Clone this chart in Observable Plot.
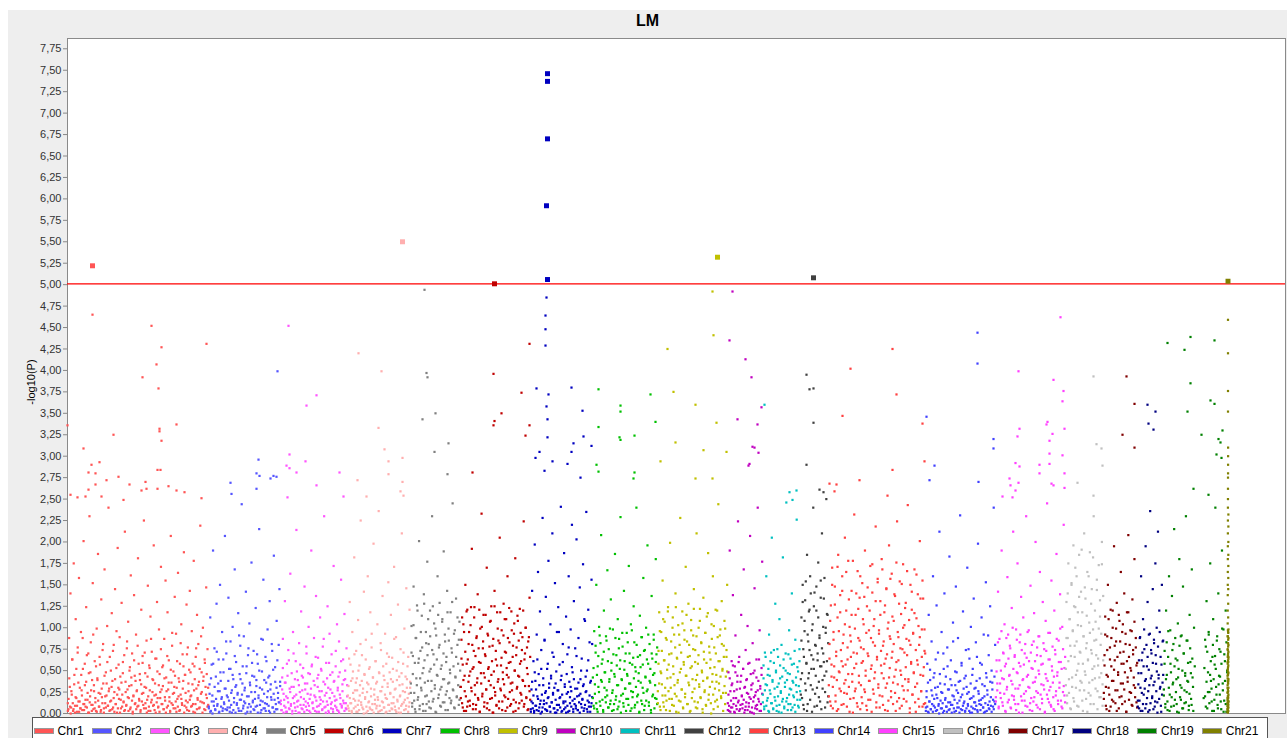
<!DOCTYPE html>
<html><head><meta charset="utf-8">
<script src="https://cdn.jsdelivr.net/npm/d3@7"></script>
<script src="https://cdn.jsdelivr.net/npm/@observablehq/plot@0.6"></script>
<style>
html,body{margin:0;padding:0;background:#fff;width:1287px;height:738px;overflow:hidden;font-family:"Liberation Sans",Arial,sans-serif;}
#panel{position:absolute;left:8px;top:10px;width:1279px;height:728px;background:#eeeeee;}
#chart{position:absolute;left:0;top:0;}
#title{position:absolute;left:8px;width:1279px;top:12px;text-align:center;font-weight:bold;font-size:16px;color:#000;}
#ylabel{position:absolute;left:31px;top:382px;transform:translate(-50%,-50%) rotate(-90deg);font-size:11px;white-space:nowrap;color:#000;}
#legend{position:absolute;left:32px;top:717px;width:1236px;height:30px;border:1px solid #555;background:#fff;display:flex;justify-content:center;align-items:flex-start;padding-top:6px;box-sizing:border-box;}
.item{display:flex;align-items:center;margin-right:8px;font-size:12px;color:#000;line-height:14px;}
.sw{width:18px;height:4px;border:1px solid #999;margin-right:4px;}
</style>
</head><body>
<div id="panel"></div>
<div id="chart"></div>
<div id="title">LM</div>
<div id="ylabel">-log10(P)</div>
<div id="legend"></div>
<script>
const chroms = ["Chr1","Chr2","Chr3","Chr4","Chr5","Chr6","Chr7","Chr8","Chr9","Chr10","Chr11","Chr12","Chr13","Chr14","Chr15","Chr16","Chr17","Chr18","Chr19","Chr21"];
const colors = ["#ff5555","#5555ff","#ff55ff","#ffafaf","#808080","#c00000","#0000c0","#00c000","#c0c000","#c000c0","#00c0c0","#404040","#ff4040","#4040ff","#ff40ff","#c0c0c0","#800000","#000080","#008000","#808000"];
// chromosome lengths along the genome axis
const lengths = [141,72,67,63,50,70,62,65,70,35,38,28,97,70,70,38,34,26,64,1];
const threshold = 5.01;
const yTicks = d3.range(0, 7.76, 0.25);

// markers per chromosome, in genome order, -log10(P) in hundredths ("." = no marker)
const bulk = [
"12 5 88 31 140 7 22 63 3 175 45 9 110 18 2 71 36 158 14 6 95 27 4 52 201 11 33 8 124 68 16 1 47 230 20 83 10 39 152 5 26 61 13 3 99 41 186 24 8 57 2 133 19 74 35 6 168 12 48 21 102 9 240 29 66 4 15 117 38 7 80 25 145 11 53 1 193 30 17 89 43 6 129 22 60 14 3 212 37 9 76 28 107 18 50 5 161 33 70 2 20 138 44 12 92 26 8 181 58 15 39 4 121 23 67 10 225 31 47 6 85 16 149 3 56 27 113 13 72 40 9 196 21 35 1 64 130 18 8 98 46 25 171 11 54 32 5 87 19 155 42 7 118 28 62 14 2 207 36 79 10 49 24 136 6 93 30 17 164 41 3 58 22 104 12 69 38 188 9 45 15 127 4 77 26 51 143 20 8 96 34 11 178 55 1 66 29 115 16 81 37 7 219 23 48 13 100 43 5 59 31 147 18 75 10",
"8 34 112 3 57 21 190 14 76 5 43 128 9 26 63 2 150 38 17 95 6 48 11 207 29 70 4 19 135 52 7 84 24 1 101 40 13 168 31 60 10 22 117 3 46 79 16 244 35 6 90 27 12 142 55 2 68 20 105 33 8 176 44 15 73 4 25 123 39 9 58 18 215 30 1 87 49 14 156 23 6 66 36 11 98 42 3 131 28 19 81 7 51 184 16 37 5 108 62 24 13 145 32",
"15 4 42 87 23 9 131 36 2 58 18 74 6 29 163 11 47 3 95 31 20 7 61 214 14 39 1 82 25 10 119 44 5 53 17 148 28 8 70 35 12 101 3 46 22 190 57 13 6 88 33 19 137 2 41 65 9 26 112 16 50 4 78 37 230 21 8 59 14 125 30 1 93 45 11 69 24 5 172 38 15 55 7 104 27 3 84 48 18 156 9 34 63 12 116 40 6 76 20",
"21 6 64 130 12 38 3 95 49 17 182 27 8 73 41 2 109 15 56 33 225 10 68 24 5 142 45 19 86 1 36 160 13 52 7 118 29 77 4 42 198 22 11 61 35 9 104 16 236 47 3 82 26 14 137 55 7 39 93 18 2 70 31 153 10 48 23 115 6 65 37 12 171 28 4 89 50 16 127 1 43 20 75 9 210 34 58 13 99 25 5 146 40 18 66 8 121 30",
"35 102 12 67 148 24 5 88 41 126 16 59 201 9 73 30 114 47 3 139 62 20 95 11 177 38 81 7 120 52 26 230 14 69 105 33 2 91 45 160 18 77 129 28 8 56 110 40 189 13 84 22 66 143 4 99 36 51 118 15 71 245 27 93 6 43 134 19 80 58 10 107 31",
"18 64 112 7 39 95 26 150 3 58 121 14 81 44 9 103 30 192 52 11 73 124 22 5 88 36 139 16 60 2 99 47 233 20 76 115 8 42 67 28 170 12 91 54 4 107 33 125 18 79 1 49 143 25 63 10 118 37 85 6 205 29 56 97 14 40 128 21 72 3 110 45 160 17 59 83 9 35 119 27 66 2 93 50 181 13 77 31 108 6 43 122 24 61 15 89 38 224 11 70 100 19 53 4 84 32 135 16",
"5 28 143 12 61 3 197 38 9 92 20 165 46 7 119 15 74 2 228 33 11 85 24 136 4 52 18 178 30 8 104 41 13 210 22 66 6 152 35 1 95 27 124 10 57 19 241 44 3 81 14 187 31 7 113 23 69 2 160 37 12 98 26 220 48 5 131 17 76 9 203 29 4 88 21 147 40 11 64 16 174 34 6 108 25 235 50 2 121 13 83 36 8 156 19",
"42 9 96 23 71 150 5 55 31 101 14 82 208 37 63 2 120 48 19 90 27 167 7 75 40 11 133 59 24 98 4 46 186 16 68 33 110 8 87 52 229 21 39 78 12 143 61 29 3 94 44 17 172 70 35 104 6 57 25 125 83 10 49 240 20 66 38 1 114 54 15 89 30 158 73 9 43 100 26 196 58 13 81 36 4 137 64 22 92 47 18 180 69 11",
"26 73 118 8 49 95 34 155 13 62 107 21 4 86 41 124 57 17 199 30 70 10 112 46 92 23 140 2 65 36 103 15 80 228 52 28 119 7 60 97 19 171 44 84 11 128 33 67 3 109 55 25 91 145 14 74 39 210 6 58 100 31 122 18 82 48 1 135 63 27 94 9 113 42 187 22 71 53 12 104 37 160 5 77 29 121 45 16 89 244 35 61 98 20 131 50 24 79 108 11 43 66 150",
"12 48 3 190 26 7 61 35 138 18 2 55 91 9 28 44 224 15 66 5 37 115 21 11 52 168 30 4 74 13 40 102 23 8 59 207 17 33 1 82 47 19 146 6 25 63 10 240 38 14 97 29 3 53 177",
"22 56 8 71 34 160 15 45 3 92 27 61 12 205 39 5 74 19 128 50 9 31 66 2 110 41 24 80 14 182 53 6 36 70 246 18 47 11 97 29 64 4 140 38 21 58 10 86 33 226 16 49 7 75 26",
"40 112 18 150 75 5 96 132 27 59 185 11 84 47 121 160 33 68 2 104 240 52 141 23 79 120 9 62 176 37 91 14 155 55 210 29 70 134 44 7 100 250 61 115 20",
"33 81 14 126 57 170 6 95 42 148 21 67 3 112 185 49 29 138 74 10 160 55 92 24 205 39 120 8 63 178 31 101 17 84 143 46 1 71 232 26 115 58 12 166 88 36 135 5 77 19 152 61 104 28 190 44 9 125 70 16 97 38 172 52 2 141 83 23 110 48 218 13 66 157 30 93 7 131 56 180 20 79 41 118 4 64 146 35 99 15 196 53 87 26 163 72 11 108 43 137 3 60 224 34 89 18 154 50 116 9 75 174 27 103 40 129 14 68 243 37 85 6 150 58 121 22 94 47 168 31 2 111 62 139 17 80 201 45 26 98 8 134 54 73 12",
"7 26 58 2 115 14 39 5 84 21 160 9 47 30 3 126 18 71 11 212 35 6 95 24 1 52 140 16 43 8 77 28 4 183 13 62 33 10 106 20 2 49 148 27 7 88 37 15 231 5 56 22 119 12 41 3 74 31 170 9 25 64 1 101 18 45 6 134 29 13 83 38 4 198 23 11 59 16 112 34 7 92 20 2 153 42 27 10 68 5 125 19 50 36 8 240 14 80",
"19 62 35 142 8 87 24 50 190 13 71 40 104 3 58 28 159 92 16 45 76 6 123 34 212 20 66 11 98 48 175 29 1 83 55 136 15 39 112 23 70 9 230 43 95 31 61 4 149 18 80 52 14 117 37 200 26 68 7 90 46 165 22 57 12 130 33 75 2 108 41 245 17 63 27 94 10 155 50 36 5 120 74 21 186 44 15 85 30 139 60 8 101 25 220 53 13",
"52 130 21 88 175 40 110 6 67 150 31 96 196 14 79 124 45 160 9 103 58 185 27 71 142 36 118 3 90 210 49 134 17 82 165 62 24 106 188 11 74 145 39 98 230 55 120 29 86 156 5 64 173 42 113 19 93 200 34 137",
"24 68 113 9 45 90 150 30 3 77 121 55 16 100 38 195 62 12 84 129 27 48 6 108 71 165 20 95 35 58 140 14 81 2 118 42 208 66 25 97 50 10 133 74 33 180 19 88 56 7",
"15 47 6 88 30 160 62 3 110 22 75 38 195 11 55 130 26 92 4 236 41 70 18 145 33 82 8 175 58 100 13 212 45 120 29 66 2 150 36 85",
"28 73 11 120 45 4 96 160 22 58 8 137 34 81 215 16 64 40 2 105 52 180 19 90 30 6 148 70 12 47 230 25 85 37 9 115 60 17 168 42 3 100 55 . . . . . . . . . . . . . 20 78 131 6 48 92 25 175 38 14 66 110 3 57 240 31 85 10 140 44 22 72 5 190 35 98 15 61 120 2 50",
"5 18 30 44 2 60 75 12 90 105 25 120 8 138 150 38 165 180 52 195 210 15 225 240 68 250 262 275 3 82 280 290 300 310 95 20 112 35 128 48 145 10 158 60 172 185 200 218 232 7 40 22 66 14 98"
];

// second, denser pass of low markers per chromosome (hundredths, genome order)
const bulkLow = [
"3 17 41 8 0 26 63 12 5 34 1 19 52 9 77 14 2 30 6 45 21 88 11 4 58 16 37 7 24 70 1 13 48 27 3 10 92 33 6 18 55 2 39 15 8 66 23 4 29 12 81 1 44 20 7 35 60 9 26 3 14 50 31 5 73 18 2 40 11 96 22 6 57 28 1 16 36 8 47 13 68 4 25 10 84 19 3 32 54 7 42 15 0 21 62 11 38 5 27 79 9 17 46 2 34 14 59 24 6 71 12 30 1 43 20 8 53 3 87 16 25 39 10 4 64 22 13 49 7 33 2 18 75 28 11 56 5 41 15 1 26 67 9 36 19 3 51 12 94 23 6 31 44 14 2 61 8 20 37 4 82 17 10 29 55 1 45 24 7 69 13 35 3 16 48 21 9 58 2 27 40 11 76 5 18 33 6 52 14 90 25 1 38 12 63 4 22 46 8 30",
"6 23 2 41 14 0 58 9 31 4 17 72 11 35 1 26 48 8 19 3 63 13 29 5 84 21 7 38 15 2 52 10 27 45 4 18 67 1 33 12 24 6 91 16 40 3 22 55 9 14 30 0 47 20 7 76 11 36 2 25 59 13 5 43 17 8 32 69 1 21 50 10 15 4 28 86 6 39 12 3 61 19 26 9 44 1 34 16 73 7 23 2 54 11 30 5 18 80 13 37",
"11 4 28 53 1 16 36 7 20 2 44 13 62 5 25 9 31 0 18 70 12 40 3 22 49 8 15 33 1 57 19 6 27 42 10 2 35 14 78 4 23 47 9 17 1 29 55 12 6 38 21 3 66 15 8 31 45 2 19 11 52 26 5 14 87 7 34 1 24 41 10 3 59 18 28 6 13 48 2 37 20 9 73 16 4 30 43 1 22 11 61 7 26 15 39 3 50 12 5 33",
"9 32 3 18 57 12 1 41 24 6 69 15 36 2 27 10 50 4 21 81 13 38 7 29 0 46 17 63 8 25 3 34 14 54 5 20 93 11 42 1 28 16 61 6 37 19 2 48 9 26 74 4 31 13 44 7 22 1 58 17 35 10 66 3 24 40 12 5 52 19 87 8 29 2 39 14 60 6 33 21 1 47 11 26 71 4 16 43 9 30 55 2 23 13 37",
"24 71 8 46 103 15 59 2 88 33 120 19 64 5 41 95 27 77 11 53 128 36 3 82 21 68 110 14 49 90 6 38 74 125 17 57 29 99 1 63 44 115 22 80 9 52 31 107 13 70 40 92 4 60 26 118 35 85 18 47 12 76 130 28 55 7 97 42 66 20 112 33 86 16 50",
"31 86 12 57 104 3 44 72 20 119 8 63 37 95 15 49 124 26 80 5 54 112 33 67 10 90 41 18 76 121 2 59 35 101 23 84 47 13 69 115 28 6 93 52 38 78 17 108 45 61 1 87 30 125 21 73 9 56 99 40 14 82 118 27 65 4 48 91 34 110 19 71 53 7 88 42 123 25 60 11 97 36 79 16 105 50 3 68 29 114 44 85 12 58 94 22 74 39 120 8 63 32 100 18 77 46 5 89 26 66",
"2 14 37 6 21 1 48 9 28 4 63 17 3 33 11 0 52 22 7 41 15 86 5 26 12 3 58 19 35 8 2 44 13 71 24 6 30 1 16 49 10 4 27 95 18 7 39 2 22 60 12 5 34 14 1 46 9 25 77 3 19 31 8 54 15 2 40 11 29 6 67 20 4 36 13 1 23 50 7 17 32 3 110 10 43 26 5 15 62 8 21 2 38 12 81",
"18 53 6 34 79 12 45 2 67 25 91 9 39 58 16 4 72 30 48 13 85 21 61 7 37 99 15 50 3 27 69 11 43 88 20 56 5 33 76 14 62 1 40 94 23 8 51 29 70 17 46 83 10 35 59 3 26 97 19 65 41 7 54 31 80 13 22 47 2 68 36 89 11 57 24 4 74 42 15 63 28 92 9 38 52 1 70 20 45 86 6 33 60 17 77",
"12 58 35 96 4 47 73 21 110 8 62 30 88 15 51 119 26 69 3 42 84 17 100 55 9 33 77 124 20 64 39 1 92 48 14 71 28 105 6 57 86 23 44 115 11 66 36 80 2 53 97 18 40 75 122 29 60 7 90 45 13 68 34 108 19 83 50 5 38 72 25 94 10 59 41 117 16 78 31 63 0 87 46 22 102 54 14 70 37 120 8 61 27 91 43 18 81 52 3 66 32 99 24 74 49",
"4 22 9 41 2 15 33 7 56 11 26 1 48 18 5 37 13 60 3 29 10 44 20 6 52 16 1 31 8 39 24 4 58 12 19 2 46 28 7 35 14 0 50 21 9 42 5 27 17 63 3 32 11 45 23",
"13 41 5 27 66 9 33 18 52 2 44 23 71 12 37 6 59 29 15 48 3 75 20 35 10 56 26 1 43 17 63 8 31 50 14 39 4 69 22 46 11 28 57 7 36 19 73 2 42 25 54 9 32 61 16",
"22 85 47 130 10 66 108 35 154 58 3 92 41 119 74 16 140 52 97 28 63 125 8 80 44 148 30 70 112 19 88 55 135 5 76 39 101 60 158 25 94 49 116 13 82",
"20 64 108 9 43 150 31 86 55 127 14 72 39 171 5 96 48 118 26 61 143 82 11 35 104 57 165 23 77 46 133 2 91 66 115 37 178 18 53 99 29 140 70 8 122 44 85 160 33 59 12 110 75 136 25 50 94 4 147 67 38 120 16 88 56 174 28 102 41 79 131 7 63 153 34 97 21 115 73 47 168 10 84 58 126 30 145 69 3 106 42 90 157 19 65 113 36 81 139 24 51 176 14 95 62 128 6 76 45 151 32 100 17 71 123 54 87 166 27 40 109 1 80 60 142 22 93 48 117 13 74 162 35 57 102 8 89 134 26 66 155 44 11 98 70",
"3 19 8 36 1 14 51 5 27 11 2 42 17 7 63 22 4 31 9 0 46 15 25 6 12 70 3 34 18 8 2 55 13 28 5 40 10 1 21 84 6 16 33 3 48 12 24 7 1 38 19 59 4 9 29 14 2 44 6 23 11 75 3 17 35 8 1 52 20 13 5 30 9 66 2 26 15 41 4 10 57 18 7 1 32 12 47 3 22 91 6 14 37 9 2 28 16 5 43 11",
"14 49 27 83 6 62 35 18 96 41 9 70 23 55 2 88 31 13 64 44 79 7 38 21 100 52 16 68 29 4 86 47 11 59 33 92 20 74 1 40 57 15 81 26 65 8 45 97 30 12 71 53 3 36 84 19 61 42 10 77 24 50 90 5 67 34 17 58 82 28 1 46 73 22 38 94 13 63 31 8 55 78 19 43 3 69 26 87 48 11 60 36 99 15 52 6 75 32 21 66",
"33 88 12 140 61 24 110 79 5 152 42 97 18 125 66 170 30 84 50 118 8 136 72 38 102 191 15 58 90 27 147 45 76 114 2 63 160 36 94 21 128 70 52 182 11 85 41 107 68 144 26 56 99 19 132 80 47 174 9 62",
"17 56 92 31 5 74 43 110 22 63 8 88 38 120 14 51 79 27 99 3 66 45 115 19 84 35 58 11 104 72 28 48 93 2 61 37 118 16 80 53 24 96 9 69 42 107 30 77 13 59",
"8 34 62 15 89 3 47 24 71 11 55 98 29 6 40 80 18 66 2 51 33 93 12 74 44 20 59 5 86 37 14 68 26 49 1 78 41 17 95 31 9 57 22 84 45",
"21 58 7 40 83 14 66 30 3 97 48 19 74 36 9 55 88 25 11 62 42 1 79 33 16 91 50 6 70 27 44 13 85 38 59 4 23 76 47 10 64 31 . . . . . . . . . . . . . . 18 53 86 8 37 72 25 95 12 45 61 29 3 80 40 16 67 52 22 90 6 34 75 43 14 58 99 27 2 69 38 11 83 48",
"2 9 16 24 33 41 5 50 58 13 66 74 20 82 90 28 97 1 36 45 7 54 62 11 70 78 18 86 94 26 3 38 47 56 14 64 72 30 80 88"
];

// sparse upper markers: "position within chromosome:-log10(P)"
const upper = [
"25:5.22 25:4.65 84:4.52 94:4.27 139:4.31 89:4.07 75:3.92 91:3.79 109:3.37 92:3.32 92:3.29 94:3.18 46:3.25 16:3.09 0:3.36 24:2.90 32:2.93 21:2.81 28:2.80 39:2.72 51:2.76 28:2.67 21:2.61 62:2.67 90:2.84 93:2.84 78:2.70 74:2.60 79:2.62 90:2.62 101:2.65 109:2.60 117:2.58 3:2.55 18:2.53 10:2.52 34:2.53 56:2.49 134:2.51",
"69:3.99 50:2.96 48:2.80 51:2.77 65:2.77 68:2.76 62:2.74 22:2.69 48:2.62 23:2.56",
"8:4.52 36:3.71 26:3.59 9:3.02 6:2.89 9:2.86 25:2.94 16:2.81 59:2.81 36:2.66 7:2.52 63:2.53",
"55:5.50 11:4.20 34:3.99 31:3.33 37:3.08 41:2.94 41:2.79 55:2.98 10:2.72 55:2.70 53:2.59 56:2.54 19:2.53",
"14:4.94 16:3.97 17:3.92 25:3.50 12:3.43 38:3.15 24:3.05 37:2.79",
"34:5.01 69:4.31 33:3.96 61:3.74 41:3.50 34:3.41 33:3.36 69:3.36 65:3.24 12:2.81",
"17:7.46 17:7.37 17:6.70 16:5.92 17:5.06 16:4.85 15:4.64 15:4.48 15:4.29 6:3.79 41:3.80 18:3.72 16:3.58 52:3.53 17:3.43 17:3.22 53:3.23 43:3.15 61:3.12 9:3.05 41:3.05 5:2.98 22:2.94 37:2.91 14:2.83 50:2.75",
"6:3.78 28:3.59 28:3.52 58:3.72 63:3.40 6:3.34 27:3.22 28:3.19 42:3.24 4:2.90 6:2.82 42:2.81 41:2.74",
"60:5.32 55:4.92 56:4.41 10:4.25 16:3.75 38:3.60 59:3.39 18:3.16 46:3.07 69:3.05 3:2.94 38:2.74 55:2.74",
"5:4.92 2:4.35 18:4.13 24:3.92 34:3.57 10:3.43 30:3.37 25:3.11 27:3.10 31:3.04 22:2.91 21:2.89",
"2:3.60 27:2.58 34:2.60 30:2.49",
"13:5.08 6:3.95 9:3.78 13:3.79 13:3.39 6:2.90 19:2.61 23:2.58",
"64:4.25 22:4.02 68:3.72 14:3.47 94:3.38 96:2.94 64:2.84 31:2.72 1:2.68 8:2.67 6:2.59 59:2.54",
"52:4.44 52:4.08 1:3.46 68:3.20 68:3.09 9:2.89 4:2.72 53:2.70",
"65:4.62 23:3.99 58:3.89 68:3.76 67:3.64 52:3.40 51:3.37 24:3.32 69:3.32 22:3.23 57:3.26 54:3.18 54:3.03 67:3.01 20:2.92 24:2.88 44:2.90 54:2.91 44:2.80 69:2.80 14:2.74 23:2.69 15:2.66 56:2.68 58:2.66 69:2.63 20:2.60 7:2.53 17:2.52",
"28:3.93 31:3.14 36:3.09 37:2.89 12:2.69 28:2.54",
"23:3.93 31:3.61 19:3.25 31:3.10",
"10:3.60 18:3.52 11:3.38 16:3.31",
"27:4.39 51:4.35 4:4.32 21:4.24 27:3.85 47:3.65 51:3.61 24:3.52 59:3.30 38:3.25 55:3.20 57:3.16 53:3.02 58:2.98 30:2.62 45:2.55",
"0.5:5.04 0.5:4.59 0.5:4.20 0.5:3.76 0.5:3.52"
];

const starts = [];
lengths.reduce((acc, l, i) => { starts[i] = acc; return acc + l; }, 0);

const rows = [];
function addSeq(list, k, c) {
  const vals = list[k].trim().split(/\s+/);
  const n = vals.length;
  vals.forEach((v, i) => {
    if (v === ".") return;
    rows.push({chr: c, pos: starts[k] + (i + 0.5) / n * lengths[k], p: +v / 100});
  });
}
chroms.forEach((c, k) => {
  addSeq(bulk, k, c);
  addSeq(bulkLow, k, c);
  upper[k].trim().split(/\s+/).filter(Boolean).forEach(s => {
    const [r, v] = s.split(":");
    rows.push({chr: c, pos: starts[k] + +r, p: +v});
  });
});

const chart = Plot.plot({
  width: 1287, height: 720,
  marginLeft: 67, marginRight: 2, marginTop: 38, marginBottom: 7,
  style: {background: "transparent", fontFamily: "Liberation Sans, Arial, sans-serif", fontSize: "11px", color: "#333"},
  x: {domain: [0, 1218], axis: null},
  y: {domain: [0, 7.87]},
  color: {domain: chroms, range: colors},
  marks: [
    Plot.frame({fill: "white", stroke: "#8a8a8a"}),
    Plot.axisY({ticks: yTicks, tickFormat: d => d.toFixed(2).replace(".", ","), tickSize: 4, tickPadding: 2, label: null, stroke: "#888"}),
    Plot.dot(rows.filter(d => d.p < threshold), {x: "pos", y: "p", fill: "chr", symbol: "square", r: 1.25}),
    Plot.ruleY([threshold], {stroke: "#ff0000", strokeWidth: 1.2}),
    Plot.dot(rows.filter(d => d.p >= threshold), {x: "pos", y: "p", fill: "chr", symbol: "square", r: 2.8})
  ]
});
document.getElementById("chart").appendChild(chart);

const legend = document.getElementById("legend");
chroms.forEach((c, i) => {
  const it = document.createElement("div");
  it.className = "item";
  const sw = document.createElement("span");
  sw.className = "sw";
  sw.style.background = colors[i];
  it.appendChild(sw);
  it.appendChild(document.createTextNode(c));
  legend.appendChild(it);
});
</script>
</body></html>
